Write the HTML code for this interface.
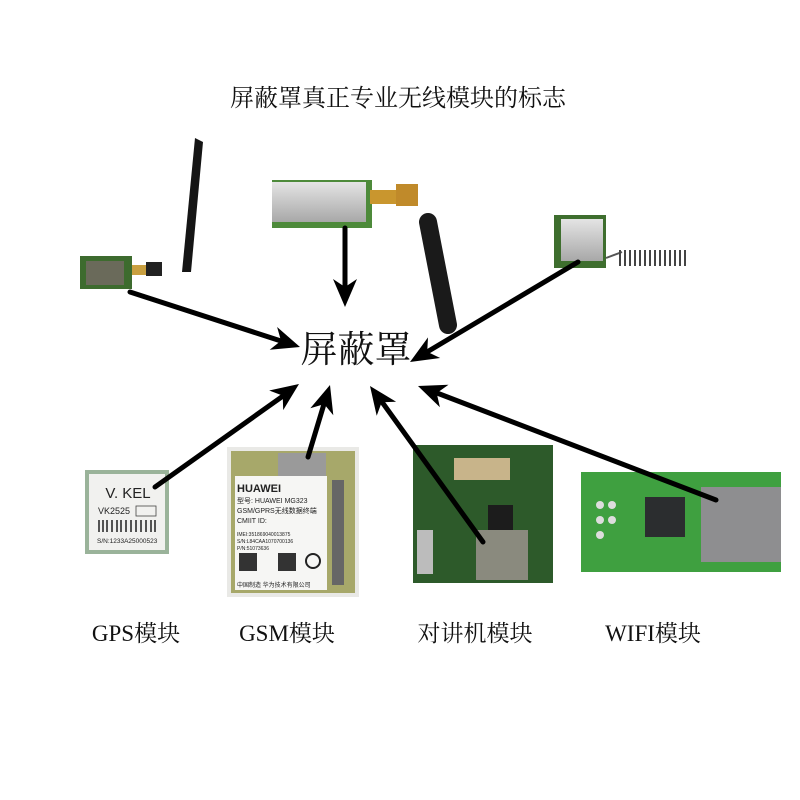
<!DOCTYPE html>
<html><head><meta charset="utf-8">
<style>
html,body{margin:0;padding:0;background:#fff;width:800px;height:800px;overflow:hidden}
svg{display:block}
.t{font-family:"Liberation Serif","Noto Serif CJK SC","Noto Sans CJK SC",serif;fill:#111}
.s{font-family:"Liberation Sans","Noto Sans CJK SC",sans-serif;fill:#222}
</style></head><body>
<svg width="800" height="800" viewBox="0 0 800 800" xmlns="http://www.w3.org/2000/svg">
<defs>
<linearGradient id="metal" x1="0" y1="0" x2="0" y2="1"><stop offset="0" stop-color="#e4e4e4"/><stop offset="1" stop-color="#a8a8a8"/></linearGradient>
</defs>
<text class="t" x="398" y="106" font-size="24" text-anchor="middle">屏蔽罩真正专业无线模块的标志</text>

<!-- module 1 top-left -->
<rect x="80" y="256" width="52" height="33" fill="#3d6b2e"/>
<rect x="86" y="261" width="38" height="24" fill="#6a6a5a"/>
<rect x="132" y="265" width="20" height="10" fill="#c9a040"/>
<rect x="146" y="262" width="16" height="14" fill="#222"/>
<polygon points="182,272 191,272 203,142 195,138" fill="#151515"/>

<!-- module 2 top-center -->
<rect x="272" y="180" width="100" height="48" fill="#4d8a3a"/>
<rect x="272" y="182" width="94" height="40" fill="url(#metal)"/>
<rect x="370" y="190" width="30" height="14" fill="#c9962e"/>
<rect x="396" y="184" width="22" height="22" fill="#c08a2a"/>
<line x1="428" y1="222" x2="448" y2="325" stroke="#1a1a1a" stroke-width="18" stroke-linecap="round"/>

<!-- module 3 top-right -->
<rect x="554" y="215" width="52" height="53" fill="#3e6e2e"/>
<rect x="561" y="219" width="42" height="42" fill="url(#metal)"/>
<line x1="606" y1="258" x2="622" y2="252" stroke="#555" stroke-width="2"/>
<g stroke="#444" stroke-width="2">
<line x1="620" y1="250" x2="620" y2="266"/><line x1="625" y1="250" x2="625" y2="266"/><line x1="630" y1="250" x2="630" y2="266"/><line x1="635" y1="250" x2="635" y2="266"/><line x1="640" y1="250" x2="640" y2="266"/><line x1="645" y1="250" x2="645" y2="266"/><line x1="650" y1="250" x2="650" y2="266"/><line x1="655" y1="250" x2="655" y2="266"/><line x1="660" y1="250" x2="660" y2="266"/><line x1="665" y1="250" x2="665" y2="266"/><line x1="670" y1="250" x2="670" y2="266"/><line x1="675" y1="250" x2="675" y2="266"/><line x1="680" y1="250" x2="680" y2="266"/><line x1="685" y1="250" x2="685" y2="266"/></g>

<!-- GPS -->
<rect x="85" y="470" width="84" height="84" fill="#9ab39a"/>
<rect x="89" y="474" width="76" height="76" fill="#f1f1ef"/>
<text class="s" x="128" y="498" font-size="15" text-anchor="middle">V. KEL</text>
<text class="s" x="98" y="514" font-size="9">VK2525</text>
<rect x="136" y="506" width="20" height="10" fill="none" stroke="#444" stroke-width="0.8"/>
<g stroke="#111" stroke-width="1.4">
<line x1="99" y1="520" x2="99" y2="532"/><line x1="103" y1="520" x2="103" y2="532"/><line x1="107" y1="520" x2="107" y2="532"/><line x1="112" y1="520" x2="112" y2="532"/><line x1="117" y1="520" x2="117" y2="532"/><line x1="121" y1="520" x2="121" y2="532"/><line x1="126" y1="520" x2="126" y2="532"/><line x1="131" y1="520" x2="131" y2="532"/><line x1="136" y1="520" x2="136" y2="532"/><line x1="141" y1="520" x2="141" y2="532"/><line x1="146" y1="520" x2="146" y2="532"/><line x1="151" y1="520" x2="151" y2="532"/><line x1="155" y1="520" x2="155" y2="532"/></g>
<text class="s" x="97" y="543" font-size="6.5">S/N:1233A25000523</text>

<!-- GSM -->
<rect x="227" y="447" width="132" height="150" fill="#e9e9e6"/>
<rect x="231" y="451" width="124" height="142" fill="#a7a86a"/>
<rect x="278" y="453" width="48" height="26" fill="#9a9a9a"/>
<rect x="235" y="476" width="92" height="114" fill="#f6f6f4"/>
<text class="s" x="237" y="492" font-size="11" font-weight="bold">HUAWEI</text>
<text class="s" x="237" y="503" font-size="7">型号: HUAWEI MG323</text>
<text class="s" x="237" y="513" font-size="7">GSM/GPRS无线数据终端</text>
<text class="s" x="237" y="523" font-size="7">CMIIT ID:</text>
<text class="s" x="237" y="536" font-size="5">IMEI:351869040013875</text>
<text class="s" x="237" y="543" font-size="5">S/N:L84CAA1070700136</text>
<text class="s" x="237" y="550" font-size="5">P/N:51073636</text>
<rect x="239" y="553" width="18" height="18" fill="#333"/>
<rect x="278" y="553" width="18" height="18" fill="#333"/>
<circle cx="313" cy="561" r="7" fill="none" stroke="#222" stroke-width="2"/>
<text class="s" x="237" y="587" font-size="6">中国制造 华为技术有限公司</text>
<rect x="332" y="480" width="12" height="105" fill="#666"/>

<!-- walkie -->
<rect x="413" y="445" width="140" height="138" fill="#2d5a2a"/>
<rect x="454" y="458" width="56" height="22" fill="#c8b48a"/>
<rect x="488" y="505" width="25" height="25" fill="#1c1c1c"/>
<rect x="476" y="530" width="52" height="50" fill="#8a8a7e"/>
<rect x="417" y="530" width="16" height="44" fill="#bcbcbc"/>

<!-- WIFI -->
<rect x="581" y="472" width="200" height="100" fill="#3fa040"/>
<rect x="645" y="497" width="40" height="40" fill="#2b2d2f"/>
<rect x="701" y="487" width="80" height="75" fill="#8e8e90"/>
<g fill="#ddd"><circle cx="600" cy="505" r="4"/><circle cx="600" cy="520" r="4"/><circle cx="600" cy="535" r="4"/><circle cx="612" cy="505" r="4"/><circle cx="612" cy="520" r="4"/></g>

<!-- arrows -->
<g stroke="#000" stroke-width="5" stroke-linecap="round">
<line x1="130" y1="292" x2="281" y2="341"/>
<line x1="345" y1="228" x2="345" y2="287"/>
<line x1="578" y1="262" x2="427" y2="352"/>
<line x1="155" y1="487" x2="283" y2="396"/>
<line x1="308" y1="457" x2="324" y2="404"/>
<line x1="483" y1="542" x2="382" y2="402"/>
<line x1="716" y1="500" x2="437" y2="393"/>
</g>
<g fill="#000">
<polygon points="300,347 269.7,349.8 281,340.8 277.1,327"/>
<polygon points="345,307 333,279 345,287 357,279"/>
<polygon points="410,362 428,337.4 427.2,351.8 440.2,358"/>
<polygon points="299,384 283.2,410.1 282.7,395.6 269.2,390.5"/>
<polygon points="330,385 333.3,415.3 324.2,404.1 310.3,408.3"/>
<polygon points="370,386 396.1,401.7 381.7,402.2 376.7,415.7"/>
<polygon points="418,386 448.5,384.8 436.7,393.1 439.9,407.2"/>
</g>

<text class="t" x="356" y="362" font-size="37" text-anchor="middle">屏蔽罩</text>

<text class="t" x="136" y="641" font-size="23" text-anchor="middle">GPS模块</text>
<text class="t" x="287" y="641" font-size="23" text-anchor="middle">GSM模块</text>
<text class="t" x="475" y="641" font-size="23" text-anchor="middle">对讲机模块</text>
<text class="t" x="653" y="641" font-size="23" text-anchor="middle">WIFI模块</text>
</svg>
</body></html>
